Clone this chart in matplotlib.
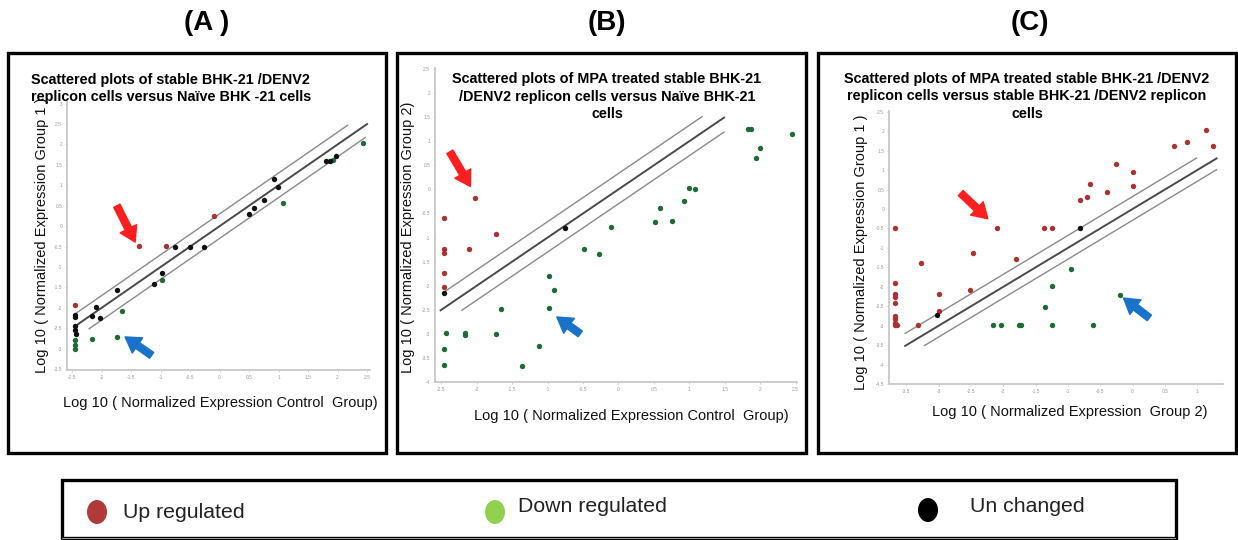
import numpy as np
import matplotlib
matplotlib.use("Agg")
import matplotlib.pyplot as plt
from matplotlib.patches import Rectangle, Ellipse

plt.rcParams['font.family'] = ['Liberation Sans', 'DejaVu Sans']
plt.rcParams['axes.unicode_minus'] = False

W, H = 1238, 540

# ---------------- data ----------------
# Panel A
A_up_x = [-2.45, -1.36, -0.91, -0.10]
A_up_y = [-1.94, -0.49, -0.49, 0.24]
A_un_x = [-2.45, -2.45, -2.45, -2.45, -2.43, -2.16, -2.10, -2.02, -1.73, -1.11, -0.98,
          -0.76, -0.50, -0.27, 0.50, 0.58, 0.76, 0.92, 0.99, 1.81, 1.87, 1.98]
A_un_y = [-2.18, -2.22, -2.45, -2.53, -2.63, -2.20, -1.98, -2.24, -1.57, -1.41, -1.15,
          -0.50, -0.50, -0.50, 0.30, 0.44, 0.64, 1.16, 0.95, 1.60, 1.60, 1.71]
A_dn_x = [-2.45, -2.45, -2.45, -2.16, -1.73, -1.65, -0.97, 1.08, 1.93, 2.43]
A_dn_y = [-2.78, -2.92, -3.00, -2.75, -2.71, -2.08, -1.31, 0.57, 1.62, 2.03]

# Panel B
B_up_x = [-2.46, -2.46, -2.46, -2.46, -2.46, -2.02, -1.73, -2.11]
B_up_y = [-0.60, -1.23, -1.33, -1.73, -2.03, -0.17, -0.93, -1.24]
B_un_x = [-2.46, -0.75]
B_un_y = [-2.15, -0.80]
B_dn_x = [1.83, 1.87, 2.45, 2.00, 1.94, 0.99, 1.08, 0.92, 0.58, 0.52, 0.76, -0.10, -0.49,
          -0.27, -0.98, -0.91, -0.98, -1.66, -2.44, -2.16, -2.16, -1.73, -1.12, -2.46, -2.46, -1.36]
B_dn_y = [1.26, 1.26, 1.15, 0.85, 0.66, 0.03, 0.01, -0.24, -0.38, -0.67, -0.65, -0.79, -1.23,
          -1.35, -1.80, -2.08, -2.46, -2.49, -2.99, -2.99, -3.02, -3.01, -3.25, -3.31, -3.65, -3.66]

# Panel C
C_up_x = [-3.68, -3.68, -3.68, -3.68, -3.68, -3.68, -3.68, -3.68, -3.68, -3.64, -3.27, -3.32,
          -3.00, -3.00, -2.51, -2.47, -2.10, -1.81, -1.37, -1.24, -0.81, -0.70, -0.66, -0.40,
          -0.25, 0.00, 0.01, 0.64, 0.85, 1.14, 1.24]
C_up_y = [-0.49, -1.91, -2.19, -2.25, -2.42, -2.74, -2.83, -2.93, -2.98, -2.98, -1.40, -2.98,
          -2.19, -2.63, -2.08, -1.14, -0.48, -1.29, -0.49, -0.50, 0.24, 0.31, 0.65, 0.45,
          1.16, 0.58, 0.96, 1.63, 1.73, 2.04, 1.62]
C_un_x = [-0.82, -3.03]
C_un_y = [-0.50, -2.73]
C_dn_x = [-2.16, -2.04, -1.76, -1.72, -1.36, -1.25, -1.24, -0.96, -0.62, -0.19]
C_dn_y = [-2.98, -2.98, -2.98, -2.98, -2.52, -1.97, -2.98, -1.55, -2.98, -2.22]

# fold-change boundary lines: (offset, x_start, x_end)
A_lines = [(0.30, -2.45, 2.17), (0.0, -2.45, 2.50), (-0.30, -2.21, 2.47)]
B_lines = [(0.33, -2.48, 1.18), (0.0, -2.51, 1.49), (-0.30, -2.21, 1.49)]
C_lines = [(0.32, -3.52, 0.99), (0.0, -3.52, 1.30), (-0.29, -3.22, 1.30)]

legend_labels = ["Up regulated", "Down regulated", "Un changed"]
panel_labels = ["(A )", "(B)", "(C)"]

A_title = ["Scattered plots of stable BHK-21 /DENV2",
           "replicon cells versus Naïve BHK -21 cells"]
B_title = ["Scattered plots of MPA treated stable BHK-21",
           "/DENV2 replicon cells versus Naïve BHK-21",
           "cells"]
C_title = ["Scattered plots of MPA treated stable BHK-21 /DENV2",
           "replicon cells versus stable BHK-21 /DENV2 replicon",
           "cells"]

UP_C = '#a83232'
DN_C = '#1f6b35'
UN_C = '#111111'

fig = plt.figure(figsize=(W / 100, H / 100), dpi=100)
fig.patch.set_facecolor('white')


def fx(x):
    return x / W


def fy(y):
    return 1 - y / H


def add_ax(l, r, t, b):
    return fig.add_axes([fx(l), fy(b), fx(r) - fx(l), (b - t) / H])


def style(ax, xt, yt, xlim, ylim):
    ax.set_xlim(*xlim)
    ax.set_ylim(*ylim)
    ax.set_xticks(xt)
    ax.set_yticks(yt)
    ax.set_xticklabels([('%g' % v) for v in xt])
    ax.set_yticklabels([('%g' % v) for v in yt])
    for s in ['top', 'right']:
        ax.spines[s].set_visible(False)
    for s in ['left', 'bottom']:
        ax.spines[s].set_color('#c8c8c8')
        ax.spines[s].set_linewidth(1.3)
    ax.tick_params(labelsize=3.5, labelcolor='#9a9a9a', length=1.5, width=0.6,
                   color='#cccccc', pad=2)
    ax.patch.set_alpha(0)


def draw(ax, up, dn, un, lines):
    cols = ['#8a8a8a', '#4a4a4a', '#8a8a8a']
    lws = [1.0, 1.4, 1.0]
    for (off, x0, x1), c, lw in zip(lines, cols, lws):
        xs = np.array([x0, x1])
        ax.plot(xs, xs + off, color=c, lw=lw, zorder=2)
    ax.scatter(up[0], up[1], s=15, color=UP_C, zorder=3, linewidths=0)
    ax.scatter(dn[0], dn[1], s=15, color=DN_C, zorder=3, linewidths=0)
    ax.scatter(un[0], un[1], s=15, color=UN_C, zorder=3, linewidths=0)


def arrow(ax, tail, tip, color):
    ax.annotate('', xy=tip, xytext=tail,
                arrowprops=dict(arrowstyle='simple,head_length=0.9,head_width=1.1,tail_width=0.42',
                                color=color, mutation_scale=12, shrinkA=0, shrinkB=0),
                zorder=4)


# ---------------- panel A ----------------
axA = add_ax(67, 370, 102, 370)
style(axA, np.arange(-2.5, 2.51, 0.5), np.arange(-3.5, 3.01, 0.5), (-2.585, 2.55), (-3.52, 3.04))
draw(axA, (A_up_x, A_up_y), (A_dn_x, A_dn_y), (A_un_x, A_un_y), A_lines)
arrow(axA, (-1.74, 0.50), (-1.43, -0.39), '#ff1f1f')
arrow(axA, (-1.15, -3.16), (-1.60, -2.71), '#1a73c8')

# ---------------- panel B ----------------
axB = add_ax(435, 797, 68, 382)
style(axB, np.arange(-2.5, 2.51, 0.5), np.arange(-4, 2.51, 0.5), (-2.59, 2.52), (-4.0, 2.52))
draw(axB, (B_up_x, B_up_y), (B_dn_x, B_dn_y), (B_un_x, B_un_y), B_lines)
arrow(axB, (-2.38, 0.78), (-2.09, 0.06), '#ff1f1f')
arrow(axB, (-0.54, -3.0), (-0.87, -2.65), '#1a73c8')

# ---------------- panel C ----------------
axC = add_ax(889, 1223, 111, 384)
style(axC, np.arange(-3.5, 1.01, 0.5), np.arange(-4.5, 2.51, 0.5), (-3.77, 1.40), (-4.5, 2.52))
draw(axC, (C_up_x, C_up_y), (C_dn_x, C_dn_y), (C_un_x, C_un_y), C_lines)
arrow(axC, (-2.66, 0.41), (-2.24, -0.25), '#ff1f1f')
arrow(axC, (0.26, -2.80), (-0.14, -2.29), '#1a73c8')

# ---------------- panel frames ----------------
for (l, t, r, b) in [(8, 53, 386, 453), (397, 53, 806, 453), (818, 53, 1236, 453)]:
    fig.add_artist(Rectangle((fx(l), fy(b)), fx(r) - fx(l), (b - t) / H, transform=fig.transFigure,
                             fill=False, edgecolor='black', linewidth=2.4, zorder=10))

# legend frame
fig.add_artist(Rectangle((fx(62), fy(538)), fx(1176) - fx(62), (538 - 480) / H, transform=fig.transFigure,
                         fill=False, edgecolor='black', linewidth=2.4, zorder=10))
fig.add_artist(Rectangle((fx(62), fy(539)), fx(1176) - fx(62), 1.5 / H, transform=fig.transFigure,
                         fill=True, facecolor='#9a9a9a', edgecolor='none', zorder=11))

# panel labels
for lab, xc in zip(panel_labels, [207, 607, 1030]):
    fig.text(fx(xc), fy(23), lab, ha='center', va='center', fontsize=20, fontweight='bold')

# titles (one text per line)
tkw = dict(fontsize=10.4, fontweight='bold', va='center')
for line, yy in zip(A_title, [80, 97]):
    fig.text(fx(31), fy(yy), line, ha='left', **tkw)
for line, yy in zip(B_title, [79, 97, 114]):
    fig.text(fx(607), fy(yy), line, ha='center', **tkw)
for line, yy in zip(C_title, [79, 96, 114]):
    fig.text(fx(1027), fy(yy), line, ha='center', **tkw)

# axis labels
lkw = dict(fontsize=10.5, color='#111111', va='center', ha='center')
fig.text(fx(42), fy(235), "Log 10 ( Normalized Expression Group 1 )", rotation=90, **lkw)
fig.text(fx(220), fy(403), "Log 10 ( Normalized Expression Control  Group)", **lkw)
fig.text(fx(408), fy(237), "Log 10 ( Normalized Expression Group 2)", rotation=90, **lkw)
fig.text(fx(631), fy(416), "Log 10 ( Normalized Expression Control  Group)", **lkw)
fig.text(fx(861), fy(252), "Log 10 ( Normalized Expression Group 1 )", rotation=90, **lkw)
fig.text(fx(1070), fy(412), "Log 10 ( Normalized Expression  Group 2)", **lkw)

# legend entries
leg_cols = ['#b03a3a', '#92d050', '#000000']
leg_dot_x = [97, 495, 928]
leg_dot_y = [512, 512, 510]
leg_txt_x = [123, 518, 970]
leg_txt_y = [513, 506, 507]
for lab, c, dx, dy, tx, ty in zip(legend_labels, leg_cols, leg_dot_x, leg_dot_y, leg_txt_x, leg_txt_y):
    fig.add_artist(Ellipse((fx(dx), fy(dy)), 20 / W, 24 / H, transform=fig.transFigure,
                           facecolor=c, edgecolor='none', zorder=12))
    fig.text(fx(tx), fy(ty), lab, ha='left', va='center', fontsize=15.3, color='#222222')

fig.savefig('out.png', dpi=100, facecolor='white')
